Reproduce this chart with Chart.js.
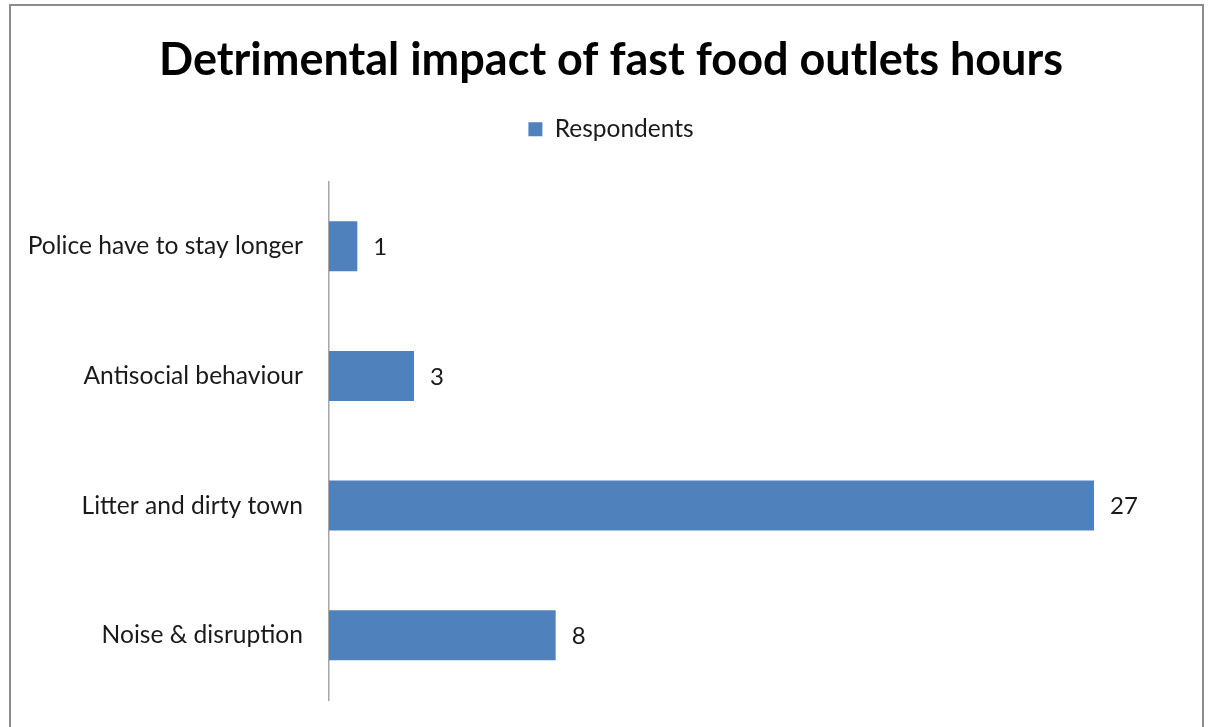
<!DOCTYPE html>
<html>
<head>
<meta charset="utf-8">
<script src="https://cdn.jsdelivr.net/npm/chart.js@4.4.0/dist/chart.umd.min.js"></script>
<style>
  html, body { margin: 0; padding: 0; background: #fff; overflow: hidden; }
  #wrap { position: relative; width: 1210px; height: 727px; }
  #frame {
    position: absolute; left: 9px; top: 4px; width: 1195px; height: 760px;
    border: 2px solid #8c8c8c; box-sizing: border-box; pointer-events: none;
  }
</style>
</head>
<body>
<div id="wrap">
  <canvas id="myChart" width="1210" height="727"></canvas>
  <div id="frame"></div>
</div>
<script>
// data
var categories = ["Police have to stay longer", "Antisocial behaviour", "Litter and dirty town", "Noise & disruption"];
var respondents = [1, 3, 27, 8];
var seriesName = "Respondents";
var chartTitle = "Detrimental impact of fast food outlets hours";

var barColor = "#4F81BD";
var fontFamily = "Lato, 'Open Sans', sans-serif";

// value labels to the right of each bar
var valueLabels = {
  id: "valueLabels",
  afterDatasetsDraw: function (chart) {
    var ctx = chart.ctx;
    var meta = chart.getDatasetMeta(0);
    ctx.save();
    ctx.font = "24px " + fontFamily;
    ctx.fillStyle = "#1a1a1a";
    ctx.textAlign = "left";
    ctx.textBaseline = "middle";
    meta.data.forEach(function (bar, i) {
      ctx.fillText(String(chart.data.datasets[0].data[i]), bar.x + 16, bar.y + 1);
    });
    ctx.restore();
  }
};

new Chart("myChart", {
  type: "bar",
  data: {
    labels: categories,
    datasets: [{
      label: seriesName,
      backgroundColor: barColor,
      borderWidth: 0,
      data: respondents,
      categoryPercentage: 1,
      barPercentage: 0.385
    }]
  },
  options: {
    indexAxis: "y",
    responsive: false,
    animation: false,
    layout: { padding: { left: 12, right: 0, bottom: 27, top: 0 } },
    plugins: {
      title: {
        display: true,
        text: chartTitle,
        color: "#000",
        font: { family: fontFamily, size: 45, weight: "bold" },
        padding: { top: 33, bottom: 20 }
      },
      legend: {
        display: true,
        position: "top",
        labels: {
          color: "#1a1a1a",
          boxWidth: 14,
          boxHeight: 14,
          font: { family: fontFamily, size: 24.5 }
        }
      },
      tooltip: { enabled: false }
    },
    scales: {
      x: {
        position: "top",
        min: 0,
        max: 30,
        grid: { display: false },
        border: { display: false },
        ticks: { display: false },
        afterFit: function (s) {
          s.height = 30;
          s.paddingRight = 31;
        }
      },
      y: {
        grid: { display: false, drawTicks: false },
        border: { display: true, color: "#a6a6a6", width: 1.5 },
        ticks: {
          color: "#1a1a1a",
          padding: 26,
          font: { family: fontFamily, size: 24.6 }
        },
        afterFit: function (s) {
          s.width = 317;
          s.paddingTop = 0;
          s.paddingBottom = 0;
        }
      }
    }
  },
  plugins: [valueLabels]
});
</script>
</body>
</html>
